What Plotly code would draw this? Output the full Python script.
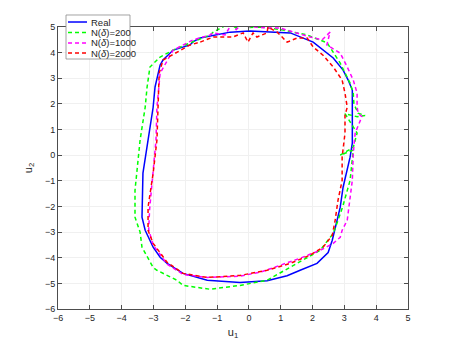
import plotly.graph_objects as go

# Кривые (u1, u2)
real_u1 = [0.03, 0.57, 1.30, 2.02, 2.65, 2.96, 3.12, 3.25, 3.25, 3.25, 3.25, 3.18, 3.09, 2.96, 2.87,
           2.71, 2.62, 2.49, 2.14, 1.61, 1.20, 0.57, -0.28, -1.31, -1.85, -2.07, -2.57, -2.79, -3.01,
           -3.26, -3.36, -3.33, -3.17, -3.01, -2.95, -2.86, -2.79, -2.70, -2.38, -1.85, -1.75, -1.53,
           -0.59, 0.03]
real_u2 = [4.84, 4.80, 4.77, 4.41, 3.79, 3.32, 2.93, 2.54, 1.64, 1.00, 0.47, -0.08, -0.59, -1.25, -2.03,
           -2.81, -3.32, -3.80, -4.22, -4.49, -4.70, -4.90, -4.97, -4.88, -4.69, -4.61, -4.22, -3.98, -3.59,
           -2.93, -2.42, -0.70, 0.59, 1.87, 2.66, 3.20, 3.52, 3.71, 4.10, 4.30, 4.43, 4.57,
           4.80, 4.84]

n200_u1 = [0.35, 1.08, 1.83, 2.46, 2.87, 3.18, 3.28, 3.30, 3.43, 3.65, 3.40, 3.02, 3.40, 3.28, 2.87,
           3.28, 3.18, 2.95, 2.80, 2.65, 2.24, 1.52, 0.57, -0.28, -1.22, -2.07, -2.26, -2.89, -3.01,
           -3.36, -3.42, -3.58, -3.58, -3.42, -3.26, -3.20, -3.11, -2.79, -2.38, -1.85, -1.22, -1.12,
           -0.81, -0.60, -0.40, -0.20, 0.00, 0.35]
n200_u2 = [5.00, 4.88, 4.69, 4.38, 3.59, 2.81, 2.42, 2.00, 1.64, 1.55, 1.50, 1.62, 0.86, 0.31, 0.00,
           0.20, -0.98, -2.00, -2.54, -3.05, -3.71, -4.22, -4.88, -5.08, -5.23, -5.08, -4.88, -4.49, -4.38,
           -3.59, -3.00, -2.42, -1.37, 0.59, 1.87, 2.66, 3.44, 3.83, 4.10, 4.38, 4.69, 4.80,
           5.00, 5.15, 4.95, 5.20, 4.98, 5.00]

n1000_u1 = [-0.28, 0.13, 0.57, 0.98, 1.30, 1.92, 2.30, 2.55, 2.45, 2.87, 3.09, 3.28, 3.40, 3.40, 3.40,
            3.43, 3.55, 3.34, 3.28, 3.25, 3.18, 3.09, 2.93, 2.87, 2.65, 2.24, 1.61, 1.00, 0.40, -0.28,
            -1.31, -2.07, -2.57, -3.01, -3.15, -3.12, -3.01, -2.92, -2.89, -2.79, -2.38, -1.75, -1.22,
            -1.12, -0.75, -0.55, -0.40, -0.28]
n1000_u2 = [5.05, 5.00, 4.96, 4.96, 4.84, 4.61, 4.50, 4.80, 4.30, 3.98, 3.44, 2.93, 2.42, 2.15, 1.90,
            1.64, 1.50, 0.86, 0.08, -0.98, -1.76, -2.54, -2.93, -3.20, -3.44, -3.71, -4.02, -4.30, -4.55, -4.72,
            -4.77, -4.65, -4.25, -3.50, -2.90, -2.10, -0.70, 0.59, 1.87, 3.20, 4.10, 4.50, 4.69,
            4.77, 4.69, 5.10, 4.90, 5.05]

n2000_u1 = [-1.53, -1.12, -0.50, -0.18, -0.03, 0.13, 0.25, 0.57, 0.60, 0.89, 1.20, 1.52, 1.83, 2.02, 2.33,
            2.65, 2.93, 3.02, 3.09, 3.02, 3.02, 2.93, 2.93, 2.80, 2.71, 2.62, 2.33, 1.92, 1.30, 0.57,
            -0.28, -1.31, -2.07, -2.57, -3.01, -3.17, -3.17, -3.01, -2.89, -2.86, -2.82, -2.70, -2.26,
            -1.85, -1.53]
n2000_u2 = [4.41, 4.61, 4.61, 4.77, 4.41, 4.77, 4.61, 4.77, 5.00, 4.80, 4.41, 4.57, 4.57, 4.22, 3.90,
            3.44, 2.93, 2.42, 1.87, 1.56, 0.86, -0.08, -0.98, -1.76, -2.54, -3.13, -3.59, -3.90, -4.22, -4.49,
            -4.69, -4.77, -4.61, -4.18, -3.44, -2.93, -2.03, -0.70, 0.59, 1.87, 3.20, 3.71, 4.02,
            4.30, 4.41]

x_ticks = list(range(-6, 6))
y_ticks = list(range(-6, 6))

series_names = ['Real', 'N(<i>δ</i>)=200', 'N(<i>δ</i>)=1000', 'N(<i>δ</i>)=2000']
series_colors = ['#0000FF', '#00FF00', '#FF00FF', '#FF0000']
series_dash = ['solid', '4px,3px', '4px,3px', '4px,3px']
series_data = [(real_u1, real_u2), (n200_u1, n200_u2), (n1000_u1, n1000_u2), (n2000_u1, n2000_u2)]

fig = go.Figure()

for name, color, dash, (xs, ys) in zip(series_names, series_colors, series_dash, series_data):
    fig.add_trace(go.Scatter(x=xs, y=ys, mode='lines', name=name, showlegend=False,
                             line=dict(color=color, width=1.5, dash=dash)))

# Компактная легенда в стиле MATLAB (встроенная у plotly слишком высокая)
fig.add_shape(type='rect', xref='paper', yref='paper', x0=0.0229, x1=0.2057, y0=0.8865, y1=1.0426,
              fillcolor='white', line=dict(color='#8C8C8C', width=0.8), layer='above')
row_y = [1.0177, 0.9805, 0.9433, 0.9078]
for name, color, dash, ry in zip(series_names, series_colors, series_dash, row_y):
    fig.add_shape(type='line', xref='paper', yref='paper', x0=0.0286, x1=0.0829, y0=ry, y1=ry,
                  line=dict(color=color, width=1.5, dash=dash), layer='above')
    fig.add_annotation(x=0.0886, y=ry, xref='paper', yref='paper', text=name, showarrow=False,
                       xanchor='left', yanchor='middle', font=dict(size=9.5, color='#262626'))

axis_style = dict(
    showgrid=True, gridcolor='#F0F0F0', gridwidth=1,
    showline=True, linecolor='#4D4D4D', linewidth=1, mirror='ticks',
    ticks='inside', ticklen=4, tickcolor='#4D4D4D',
    zeroline=False, tickfont=dict(size=9, color='#262626'), automargin=False,
)

# Страница добавляет 8px отступа у body, поэтому поля сдвинуты
fig.update_layout(
    width=451, height=348,
    margin=dict(l=50, r=51, t=19, b=47),
    paper_bgcolor='white', plot_bgcolor='white',
    font=dict(family='Liberation Sans, Arial, sans-serif', size=9, color='#262626'),
    showlegend=False,
)
fig.update_xaxes(range=[-6, 5], tickvals=x_ticks, title=dict(text='u<sub>1</sub>', standoff=6), **axis_style)
fig.update_yaxes(range=[-6, 5], tickvals=y_ticks, title=dict(text='u<sub>2</sub>', standoff=10), **axis_style)

fig.write_html("out.html")
